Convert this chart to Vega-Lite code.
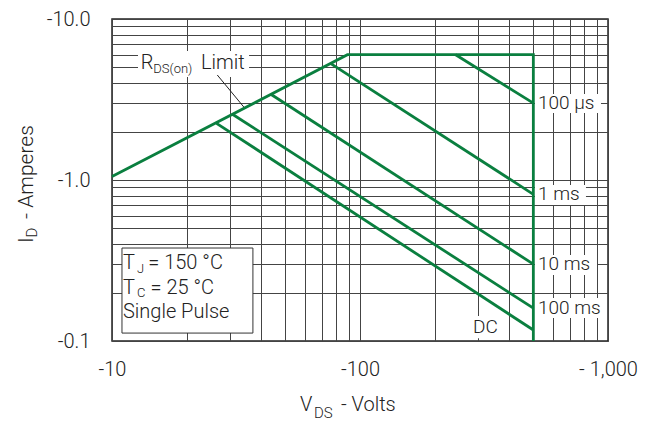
{
  "$schema": "https://vega.github.io/schema/vega-lite/v6.json",
  "width": 496,
  "height": 322,
  "autosize": {"type": "none"},
  "padding": {"left": 112, "top": 19, "right": 46, "bottom": 81},
  "background": "white",
  "datasets": {
    "curves": [
      {"s": "limit", "k": 1, "v": 10, "i": 1.05},
      {"s": "limit", "k": 2, "v": 89, "i": 6.0},
      {"s": "limit", "k": 3, "v": 500, "i": 6.0},
      {"s": "limit", "k": 4, "v": 500, "i": 0.1},
      {"s": "100us", "k": 1, "v": 243, "i": 6.0},
      {"s": "100us", "k": 2, "v": 500, "i": 3.0},
      {"s": "1ms", "k": 1, "v": 76, "i": 5.3},
      {"s": "1ms", "k": 2, "v": 500, "i": 0.815},
      {"s": "10ms", "k": 1, "v": 43.7, "i": 3.41},
      {"s": "10ms", "k": 2, "v": 500, "i": 0.30},
      {"s": "100ms", "k": 1, "v": 30.6, "i": 2.56},
      {"s": "100ms", "k": 2, "v": 500, "i": 0.16},
      {"s": "DC", "k": 1, "v": 26.4, "i": 2.25},
      {"s": "DC", "k": 2, "v": 500, "i": 0.117}
    ],
    "label_bg": [
      {"v": 12.73, "v2": 35.7, "i": 4.36, "i2": 6.33},
      {"v": 507.7, "v2": 937, "i": 2.61, "i2": 3.42},
      {"v": 507.7, "v2": 815, "i": 0.70, "i2": 0.931},
      {"v": 507.7, "v2": 903, "i": 0.257, "i2": 0.342},
      {"v": 507.7, "v2": 982, "i": 0.139, "i2": 0.185},
      {"v": 277.6, "v2": 373.8, "i": 0.104, "i2": 0.143}
    ],
    "cond_box": [
      {"v": 10.97, "v2": 37.0, "i": 0.112, "i2": 0.378}
    ],
    "leader": [
      {"k": 1, "v": 26.58, "i": 4.49},
      {"k": 2, "v": 34.06, "i": 2.83}
    ],
    "notes": [
      {"t": "R", "v": 13.05, "i": 4.89},
      {"t": "Limit", "v": 22.85, "i": 4.89},
      {"t": "T", "v": 11.07, "i": 0.280},
      {"t": "= 150 °C", "v": 14.0, "i": 0.280},
      {"t": "T", "v": 11.07, "i": 0.1958},
      {"t": "= 25 °C", "v": 14.3, "i": 0.1958},
      {"t": "Single Pulse", "v": 11.07, "i": 0.138},
      {"t": "V", "v": 57.3, "i": 0.0367},
      {"t": "- Volts", "v": 83.8, "i": 0.0367}
    ],
    "subs": [
      {"t": "DS(on)", "v": 14.67, "i": 4.62},
      {"t": "J", "v": 12.61, "i": 0.2645},
      {"t": "C", "v": 12.61, "i": 0.1885}
    ],
    "title_subs": [
      {"t": "DS", "v": 65.25, "i": 0.0332}
    ],
    "curve_names": [
      {"t": "100 µs", "v": 522, "i": 3.0},
      {"t": "1 ms", "v": 522, "i": 0.815},
      {"t": "10 ms", "v": 522, "i": 0.30},
      {"t": "100 ms", "v": 522, "i": 0.16},
      {"t": "DC", "v": 285.5, "i": 0.1227}
    ],
    "ytitle": [
      {"t": "I", "v": 4.816, "i": 0.406},
      {"t": "- Amperes", "v": 4.816, "i": 0.5725}
    ],
    "ytitle_sub": [
      {"t": "D", "v": 4.97, "i": 0.4395}
    ]
  },
  "encoding": {
    "x": {
      "field": "v",
      "type": "quantitative",
      "scale": {"type": "log", "domain": [10, 1000], "nice": false},
      "axis": {
        "title": null,
        "values": [10, 20, 30, 40, 50, 60, 70, 80, 90, 100, 200, 300, 400, 500, 600, 700, 800, 900, 1000],
        "grid": true,
        "gridColor": "#444",
        "gridWidth": 1,
        "ticks": false,
        "domain": false,
        "labelFlush": false,
        "labelOverlap": false,
        "labelFont": "Roboto",
        "labelFontWeight": 300,
        "labelFontSize": 20,
        "labelColor": "#222",
        "labelPadding": 18,
        "labelExpr": "datum.value == 10 ? '-10' : datum.value == 100 ? '-100' : datum.value == 1000 ? '- 1,000' : ''"
      }
    },
    "y": {
      "field": "i",
      "type": "quantitative",
      "scale": {"type": "log", "domain": [0.1, 10], "nice": false},
      "axis": {
        "title": null,
        "values": [0.1, 0.2, 0.3, 0.4, 0.5, 0.6, 0.7, 0.8, 0.9, 1, 2, 3, 4, 5, 6, 7, 8, 9, 10],
        "grid": true,
        "gridColor": "#444",
        "gridWidth": 1,
        "ticks": false,
        "domain": false,
        "labelOverlap": false,
        "labelFont": "Roboto",
        "labelFontWeight": 300,
        "labelFontSize": 20,
        "labelColor": "#222",
        "labelPadding": 22,
        "labelExpr": "datum.value == 0.1 ? '-0.1' : datum.value == 1 ? '-1.0' : datum.value == 10 ? '-10.0' : ''"
      }
    }
  },
  "layer": [
    {
      "data": {"name": "label_bg"},
      "mark": {"type": "rect", "fill": "white"},
      "encoding": {"x2": {"field": "v2"}, "y2": {"field": "i2"}}
    },
    {
      "data": {"name": "cond_box"},
      "mark": {"type": "rect", "fill": "white", "stroke": "#333", "strokeWidth": 1},
      "encoding": {"x2": {"field": "v2"}, "y2": {"field": "i2"}}
    },
    {
      "data": {"name": "leader"},
      "mark": {"type": "line", "color": "#222", "strokeWidth": 1},
      "encoding": {"order": {"field": "k"}}
    },
    {
      "data": {"name": "curves"},
      "mark": {"type": "line", "color": "#0a7f3f", "strokeWidth": 2.8, "strokeJoin": "miter"},
      "encoding": {"detail": {"field": "s"}, "order": {"field": "k"}}
    },
    {
      "data": {"name": "notes"},
      "mark": {"type": "text", "font": "Roboto", "fontWeight": 300, "fontSize": 20, "color": "#222", "align": "left", "baseline": "alphabetic"},
      "encoding": {"text": {"field": "t"}}
    },
    {
      "data": {"name": "subs"},
      "mark": {"type": "text", "font": "Roboto", "fontWeight": 300, "fontSize": 13, "color": "#222", "align": "left", "baseline": "alphabetic"},
      "encoding": {"text": {"field": "t"}}
    },
    {
      "data": {"name": "title_subs"},
      "mark": {"type": "text", "font": "Roboto", "fontWeight": 300, "fontSize": 15, "color": "#222", "align": "left", "baseline": "alphabetic"},
      "encoding": {"text": {"field": "t"}}
    },
    {
      "data": {"name": "curve_names"},
      "mark": {"type": "text", "font": "Roboto", "fontWeight": 300, "fontSize": 19, "color": "#222", "align": "left", "baseline": "middle"},
      "encoding": {"text": {"field": "t"}}
    },
    {
      "data": {"name": "ytitle"},
      "mark": {"type": "text", "font": "Roboto", "fontWeight": 300, "fontSize": 21, "color": "#222", "align": "left", "baseline": "alphabetic", "angle": 270},
      "encoding": {"text": {"field": "t"}}
    },
    {
      "data": {"name": "ytitle_sub"},
      "mark": {"type": "text", "font": "Roboto", "fontWeight": 300, "fontSize": 15, "color": "#222", "align": "left", "baseline": "alphabetic", "angle": 270},
      "encoding": {"text": {"field": "t"}}
    }
  ],
  "config": {
    "view": {"stroke": "#222", "strokeWidth": 1.5}
  }
}
